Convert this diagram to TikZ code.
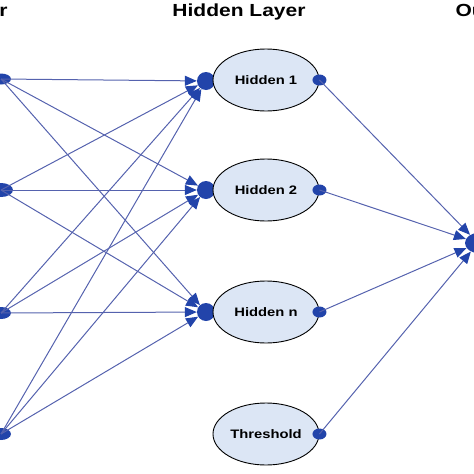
\documentclass[tikz,border=0pt]{standalone}
\usepackage{fontspec}
\setmainfont{Liberation Sans}
\newfontfamily\wide[FakeStretch=1.2]{Liberation Sans}
\usetikzlibrary{arrows.meta,shapes.geometric}
\definecolor{lineblue}{HTML}{5562AE}
\definecolor{dotblue}{HTML}{2244AA}
\definecolor{fillblue}{HTML}{DCE6F5}
\tikzset{
  hid/.style={ellipse, draw=black, line width=0.9pt, fill=fillblue, minimum width=106pt, minimum height=62pt, inner sep=0pt, font=\wide\bfseries\fontsize{12.3}{12}\selectfont},
  dot/.style={ellipse, fill=dotblue, inner sep=0pt, minimum width=#1, minimum height=11pt},
  dot/.default=14pt,
  blob/.style={ellipse, fill=dotblue, inner sep=0pt, minimum width=18pt, minimum height=18pt},
  conn/.style={draw=lineblue, line width=1pt, -{Triangle[length=12pt,width=10pt,color=dotblue]}},
  title/.style={font=\wide\bfseries\fontsize{17.5}{17.5}\selectfont}
}
\begin{document}
\begin{tikzpicture}[x=1pt,y=-1pt]
\useasboundingbox (0,0) rectangle (474,474);
\clip (0,0) rectangle (474,474);
% titles
\node[title, anchor=east] (tin) at (11,12) {Input Layer};
\node[title] (thid) at (239,12) {Hidden Layer};
\node[title, anchor=west] (tout) at (452,12) {Output Layer};
% blobs where the arrows meet the hidden nodes (behind the ellipses)
\node[blob] (w1) at (206,81) {};
\node[blob] (w2) at (206,190) {};
\node[blob] (w3) at (206,312) {};
% hidden nodes
\node[hid] (h1) at (266,80) {Hidden 1};
\node[hid] (h2) at (266,190) {Hidden 2};
\node[hid] (hn) at (266,312) {Hidden n};
\node[hid] (th) at (266,434) {Threshold};
% input dots
\node[dot=20pt] (i1) at (1,79) {};
\node[dot=24pt, minimum height=14pt] (i2) at (1,190) {};
\node[dot=20pt, minimum height=12pt] (i3) at (1,313) {};
\node[dot=20pt, minimum height=12pt] (i4) at (1,434) {};
% output dot
\node[dot=26pt, minimum height=20pt] (o) at (478,243) {};
% connectors input -> hidden
\foreach \i in {i1,i2,i3,i4}{
  \foreach \h in {w1,w2,w3}{
    \draw[conn] (\i.center) -- (\h);
  }
}
% hidden output dots and connectors
\foreach \h/\n in {h1/d1,h2/d2,hn/d3,th/d4}{
  \node[dot] (\n) at (\h.east) {};
  \draw[conn] (\n.center) -- (o);
}
\end{tikzpicture}
\end{document}
